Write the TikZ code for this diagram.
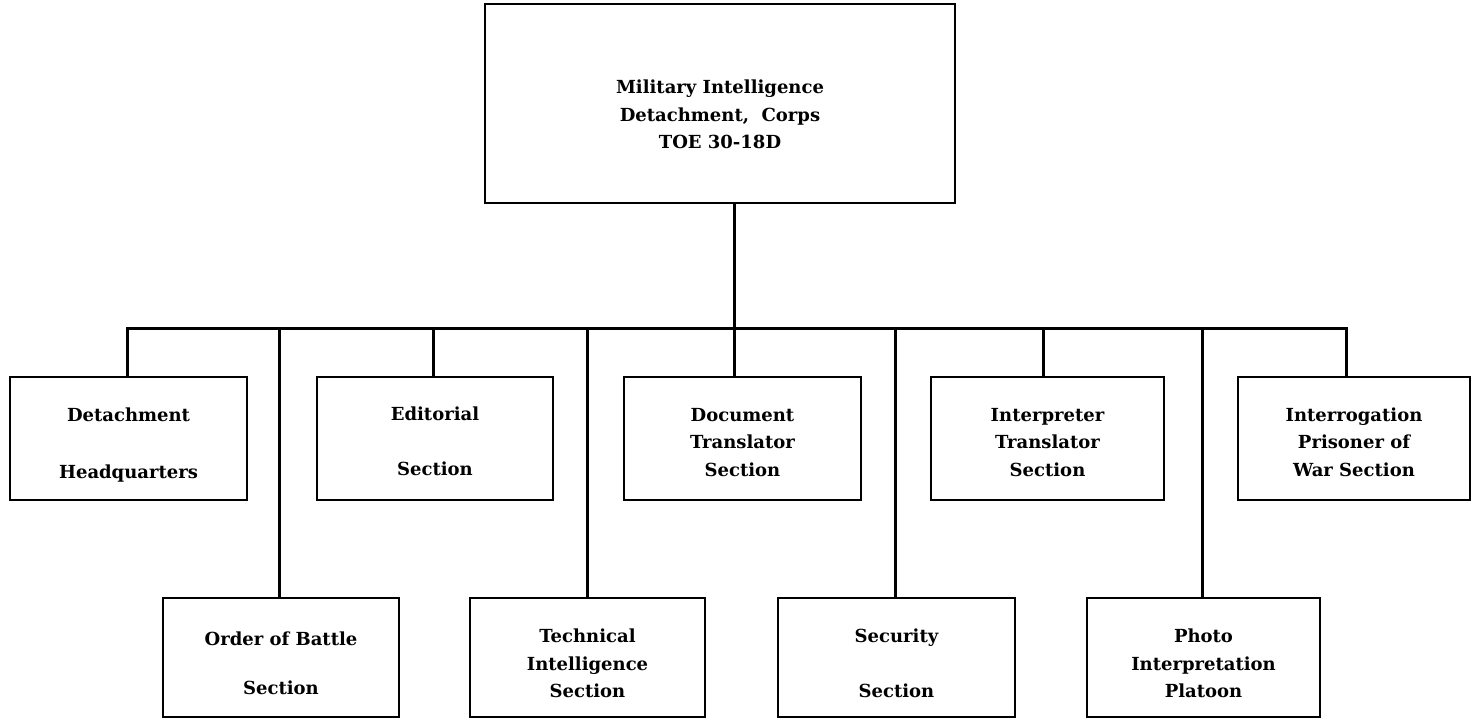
\documentclass[tikz,border=0pt]{standalone}
\usepackage{fontspec}
\setmainfont{DejaVu Serif}
\newcommand{\lowr}[2]{\raisebox{#1}[\height][\depth]{\begin{tabular}{@{}c@{}}#2\end{tabular}}}
\begin{document}
\begin{tikzpicture}[x=1pt,y=-1pt,
  orgbox/.style={draw, line width=2.1pt, rectangle, align=center, inner sep=0pt,
    font=\fontsize{18}{27.5}\selectfont\bfseries},
  toprow/.style={orgbox, minimum height=123pt},
  botrow/.style={orgbox, minimum height=119pt},
  link/.style={line width=3pt}]
\useasboundingbox (0,0) rectangle (1478,721);
\node[orgbox, minimum width=470pt, minimum height=199pt] (top) at (720,103.5) {\lowr{-12pt}{Military Intelligence\\ Detachment,\ \ Corps\\ TOE 30-18D}};
% top row
\node[toprow, minimum width=237pt] (det) at (128.5,438.5) {\lowr{-6pt}{Detachment\\[29pt]Headquarters}};
\node[toprow, minimum width=236pt] (edi) at (435,438.5) {\lowr{-4pt}{Editorial\\[27.5pt]Section}};
\node[toprow, minimum width=237pt] (doc) at (742.5,438.5) {\lowr{-4.5pt}{Document\\Translator\\Section}};
\node[toprow, minimum width=233pt] (int) at (1047.5,438.5) {\lowr{-4.5pt}{Interpreter\\Translator\\Section}};
\node[toprow, minimum width=232pt] (ipw) at (1354,438.5) {\lowr{-4.5pt}{Interrogation\\Prisoner of\\War Section}};
% bottom row
\node[botrow, minimum width=236pt] (oob) at (281,657.5) {\lowr{-7pt}{Order of Battle\\[22pt]Section}};
\node[botrow, minimum width=235pt] (tec) at (587.5,657.5) {\lowr{-7pt}{Technical\\Intelligence\\Section}};
\node[botrow, minimum width=237pt] (sec) at (896.5,657.5) {\lowr{-7pt}{Security\\[27.5pt]Section}};
\node[botrow, minimum width=233pt] (pho) at (1203.5,657.5) {\lowr{-7pt}{Photo\\Interpretation\\Platoon}};
% connectors
\coordinate (bar) at (734,328);
\draw[link] (top.south -| bar) -- (bar);
\draw[link] ([xshift=-1.5pt]det.north) |- ([xshift=-8pt]ipw.north |- bar) -- ([xshift=-8pt]ipw.north);
\draw[link] ([xshift=-2pt]edi.north) -- ([xshift=-2pt]edi.north |- bar);
\draw[link] (doc.north -| bar) -- (bar);
\draw[link] ([xshift=-4.5pt]int.north) -- ([xshift=-4.5pt]int.north |- bar);
\draw[link] ([xshift=-2pt]oob.north) -- ([xshift=-2pt]oob.north |- bar);
\draw[link] ([xshift=-0.5pt]tec.north) -- ([xshift=-0.5pt]tec.north |- bar);
\draw[link] ([xshift=-1.5pt]sec.north) -- ([xshift=-1.5pt]sec.north |- bar);
\draw[link] ([xshift=-1.5pt]pho.north) -- ([xshift=-1.5pt]pho.north |- bar);
\end{tikzpicture}
\end{document}
